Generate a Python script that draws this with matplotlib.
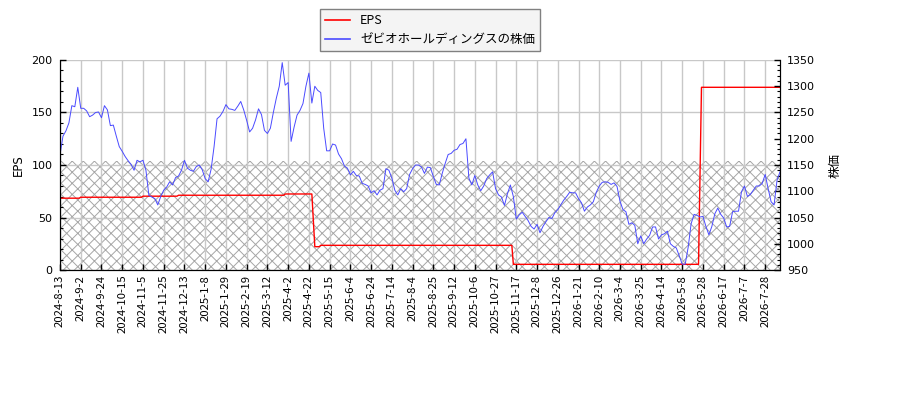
import numpy as np
import matplotlib
matplotlib.use('Agg')
import matplotlib.pyplot as plt
from matplotlib.ticker import MultipleLocator
from matplotlib.lines import Line2D

plt.rcParams['font.family'] = ['DejaVu Sans', 'Noto Sans CJK JP']
plt.rcParams['hatch.linewidth'] = 0.7

# ---------------- data ----------------
tick_labels = [
    '2024-8-13', '2024-9-2', '2024-9-24', '2024-10-15', '2024-11-5', '2024-11-25',
    '2024-12-13', '2025-1-8', '2025-1-29', '2025-2-19', '2025-3-12', '2025-4-2',
    '2025-4-22', '2025-5-15', '2025-6-4', '2025-6-24', '2025-7-14', '2025-8-4',
    '2025-8-25', '2025-9-12', '2025-10-6', '2025-10-27', '2025-11-17', '2025-12-8',
    '2025-12-26', '2026-1-21', '2026-2-10', '2026-3-4', '2026-3-25', '2026-4-14',
    '2026-5-8', '2026-5-28', '2026-6-17', '2026-7-7', '2026-7-28',
]
tick_every_days = 14      # trading days between labelled dates
n_days = 487              # trading days shown

# share price, sampled every 2 trading days
price_every_days = 2
price = [
    1169, 1205, 1215, 1230, 1263, 1261, 1298, 1258, 1258, 1253,
    1242, 1245, 1250, 1251, 1240, 1263, 1255, 1225, 1226, 1205,
    1185, 1176, 1166, 1158, 1151, 1140, 1159, 1156, 1159, 1140,
    1092, 1089, 1086, 1074, 1090, 1102, 1108, 1118, 1112, 1126,
    1129, 1140, 1159, 1144, 1140, 1138, 1147, 1150, 1141, 1124,
    1118, 1142, 1185, 1238, 1243, 1252, 1265, 1257, 1256, 1254,
    1262, 1271, 1255, 1235, 1213, 1220, 1236, 1257, 1246, 1216,
    1210, 1220, 1250, 1277, 1300, 1345, 1302, 1307, 1195, 1222,
    1245, 1254, 1267, 1300, 1325, 1268, 1300, 1292, 1288, 1220,
    1177, 1177, 1190, 1188, 1171, 1162, 1148, 1144, 1131, 1138,
    1130, 1129, 1115, 1113, 1110, 1097, 1101, 1093, 1102, 1105,
    1143, 1140, 1125, 1102, 1093, 1105, 1099, 1105, 1132, 1143,
    1150, 1150, 1146, 1134, 1146, 1145, 1128, 1113, 1112, 1134,
    1153, 1170, 1172, 1178, 1180, 1189, 1191, 1200, 1125, 1112,
    1130, 1112, 1101, 1110, 1124, 1131, 1137, 1105, 1093, 1089,
    1073, 1095, 1112, 1090, 1047, 1055, 1060, 1052, 1044, 1033,
    1028, 1037, 1021, 1033, 1042, 1050, 1048, 1059, 1065, 1074,
    1083, 1090, 1098, 1097, 1097, 1086, 1078, 1062, 1070, 1074,
    1080, 1098, 1110, 1117, 1118, 1117, 1113, 1116, 1109, 1081,
    1065, 1061, 1037, 1040, 1035, 1000, 1015, 1000, 1009, 1016,
    1032, 1032, 1009, 1017, 1019, 1024, 1000, 995, 992, 977,
    961, 961, 993, 1038, 1056, 1054, 1051, 1052, 1033, 1017,
    1033, 1057, 1068, 1056, 1049, 1032, 1033, 1061, 1062, 1062,
    1099, 1110, 1090, 1094, 1102, 1110, 1110, 1115, 1132, 1105,
    1080, 1074, 1121, 1137,
]

# EPS: trading day on which each level starts, and the level
eps_change_day = [0, 14, 56, 80, 152, 171, 172, 176, 306, 432, 433]
eps_level = [68.4, 69.3, 70.3, 71.2, 72.4, 48.0, 22.2, 23.5, 5.4, 90.0, 174.0]

hatch_top = 104

series_names = ['EPS', 'ゼビオホールディングスの株価']

# ---------------- figure ----------------
fig = plt.figure(figsize=(9, 4), dpi=100)
ax1 = fig.add_axes([60 / 900, 1 - 270 / 400, 720 / 900, 210 / 400])
ax2 = ax1.twinx()

days = np.arange(n_days)
eps_daily = np.array(eps_level)[np.searchsorted(eps_change_day, days, side='right') - 1]
price_days = np.arange(len(price)) * price_every_days

red = '#ff0000'
blue = '#4a4aff'

ax1.axhspan(0, hatch_top, facecolor='none', edgecolor='#a6a6a6', hatch='xxx',
            linewidth=0, zorder=0.5)
ax1.plot(days, eps_daily, color=red, lw=1.0, zorder=2)
ax2.plot(price_days, price, color=blue, lw=0.7, zorder=2)

ax1.set_xlim(0, n_days - 1)
ax1.set_ylim(0, 200)
ax2.set_ylim(950, 1350)

ax1.set_xticks(np.arange(len(tick_labels)) * tick_every_days)
ax1.set_xticklabels(tick_labels, rotation=90, fontsize=8.2,
                    family=['Noto Sans CJK JP', 'DejaVu Sans'])
ax1.yaxis.set_major_locator(MultipleLocator(50))
ax1.yaxis.set_minor_locator(MultipleLocator(10))
ax2.yaxis.set_major_locator(MultipleLocator(50))
ax2.yaxis.set_minor_locator(MultipleLocator(10))

ax1.tick_params(axis='x', direction='in', length=4, width=1, pad=3.5)
ax1.tick_params(axis='y', which='major', direction='in', length=4, width=1,
                labelsize=8, pad=5.5)
ax1.tick_params(axis='y', which='minor', direction='in', length=2.5, width=0.8)
ax2.tick_params(axis='y', which='major', direction='in', length=4, width=1,
                labelsize=8, pad=5.0)
ax2.tick_params(axis='y', which='minor', direction='in', length=2.5, width=0.8)

ax1.grid(True, which='major', color='#c8c8c8', lw=1.0)
ax1.set_axisbelow(True)

for a in (ax1, ax2):
    a.spines['top'].set_visible(False)

ax1.set_ylabel('EPS', fontsize=8.5)
ax1.yaxis.set_label_coords((25 - 60) / 720, 0.5)
ax2.set_ylabel('株価', fontsize=9, family=['Noto Sans CJK JP', 'DejaVu Sans'])
ax2.yaxis.set_label_coords((829 - 60) / 720, 0.5)

handles = [Line2D([], [], color=red, lw=1.2), Line2D([], [], color=blue, lw=1.2)]
fig.legend(handles, series_names, loc='upper center',
           bbox_to_anchor=(430 / 900, 1 - 9 / 400), fancybox=False,
           edgecolor='#808080', facecolor='#f4f4f4', framealpha=1,
           prop={'family': ['Noto Sans CJK JP', 'DejaVu Sans'], 'size': 9},
           borderaxespad=0)

fig.savefig('out.png', dpi=100)
